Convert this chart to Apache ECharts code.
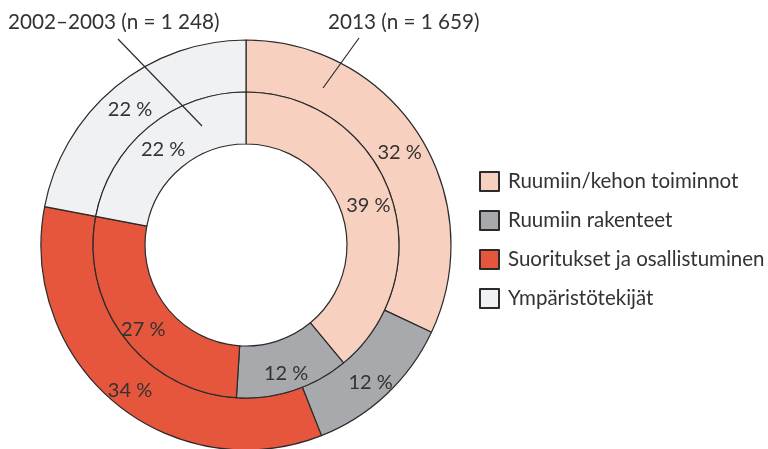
<!DOCTYPE html>
<html>
<head>
<meta charset="utf-8">
<script src="https://cdn.jsdelivr.net/npm/echarts@6/dist/echarts.min.js"></script>
<style>
html,body{margin:0;padding:0;background:#fff;}
#chart{width:768px;height:449px;}
</style>
</head>
<body>
<div id="chart"></div>
<script>
const categories = ['Ruumiin/kehon toiminnot', 'Ruumiin rakenteet', 'Suoritukset ja osallistuminen', 'Ympäristötekijät'];
const values2013 = [32, 12, 34, 22];
const values2002 = [39, 12, 27, 22];
const seriesNames = ['2013 (n = 1 659)', '2002–2003 (n = 1 248)'];
const colors = ['#F7D0C0', '#A8A9AC', '#E5563C', '#F0F1F3'];

const FONT = 'Lato';
const TXT = '#333333';

function makeData(vals) {
  return categories.map((c, i) => ({ name: c, value: vals[i] }));
}

const common = {
  type: 'pie',
  center: [246, 245],
  startAngle: 90,
  clockwise: true,
  avoidLabelOverlap: false,
  silent: true,
  label: {
    show: true,
    position: 'inside',
    formatter: '{c} %',
    color: TXT,
    fontFamily: FONT,
    fontSize: 20,
    offset: [0, 5]
  },
  labelLine: { show: false },
  itemStyle: { borderColor: '#2b2b2b', borderWidth: 1.2 },
  emphasis: { disabled: true }
};

const chart = echarts.init(document.getElementById('chart'), null, { renderer: 'canvas' });
chart.setOption({
  animation: false,
  color: colors,
  legend: {
    orient: 'vertical',
    left: 479,
    top: 171,
    padding: 0,
    itemWidth: 19,
    itemHeight: 19,
    itemGap: 18,
    icon: 'rect',
    data: categories,
    selectedMode: false,
    textStyle: { fontFamily: FONT, fontSize: 20.5, color: TXT, padding: [0, 0, 0, 4] }
  },
  series: [
    Object.assign({}, common, { name: seriesNames[0], radius: [153, 205], data: makeData(values2013) }),
    Object.assign({}, common, { name: seriesNames[1], radius: [101, 153], data: makeData(values2002) })
  ],
  graphic: [
    { type: 'text', left: 8, top: 12, z: 100, style: { text: seriesNames[1], fontFamily: FONT, fontSize: 20.7, fill: TXT } },
    { type: 'text', left: 328, top: 12, z: 100, style: { text: seriesNames[0], fontFamily: FONT, fontSize: 20.7, fill: TXT } },
    { type: 'line', z: 100, shape: { x1: 118, y1: 39, x2: 202, y2: 126 }, style: { stroke: '#2b2b2b', lineWidth: 1.2 } },
    { type: 'line', z: 100, shape: { x1: 359, y1: 38, x2: 323, y2: 88 }, style: { stroke: '#2b2b2b', lineWidth: 1.2 } }
  ]
});
</script>
</body>
</html>
